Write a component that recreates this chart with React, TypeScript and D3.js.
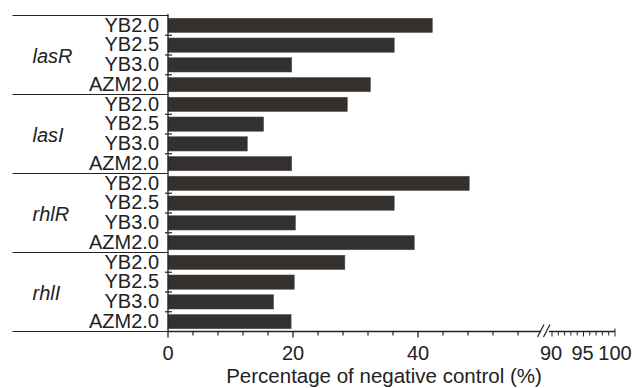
import * as d3 from 'd3';
import React from 'react';

// groups (genes) and treatments, one bar per gene x treatment
const genes = ['lasR', 'lasI', 'rhlR', 'rhlI'];
const treatments = ['YB2.0', 'YB2.5', 'YB3.0', 'AZM2.0'];

// percentage of negative control, per gene in treatment order
const lasRValues = [42.3, 36.2, 19.8, 32.4];
const lasIValues = [28.7, 15.3, 12.7, 19.8];
const rhlRValues = [48.2, 36.2, 20.4, 39.4];
const rhlIValues = [28.3, 20.2, 16.9, 19.7];

const mainTicks = [0, 20, 40];
const breakTicks = [90, 95, 100];

const W = 634;
const H = 388;
const FONT = "'Liberation Sans', Arial, sans-serif";
const BAR = '#33302e';
const INK = '#222';

export default function App() {
  const rows = [lasRValues, lasIValues, rhlRValues, rhlIValues].flatMap((vals, g) =>
    vals.map((v, t) => ({ id: `${g}-${t}`, gene: genes[g], treatment: treatments[t], value: v }))
  );

  const x = d3.scaleLinear().domain([0, 60]).range([168, 543]);
  const x2 = d3.scaleLinear().domain([90, 100]).range([552, 615]);

  const y = d3.scaleBand()
    .domain(rows.map(d => d.id))
    .range([15.5, 331.5])
    .paddingInner(0.275)
    .paddingOuter(0.1375);

  const step = y.step();
  const top = 15.5;
  const axisY = 331.5;
  const left = x(0);

  const minor = d3.range(4, 60, 4).filter(v => !mainTicks.includes(v));
  const minor2 = d3.range(90, 101, 1);
  const boundaries = d3.range(1, rows.length).filter(k => k % 4 !== 0);
  const separators = d3.range(0, rows.length + 1, 4);

  return (
    <svg width={W} height={H} style={{ position: 'absolute', left: 0, top: 0 }} fontFamily={FONT}>
      <rect width={W} height={H} fill="#fff" />

      {/* bars */}
      {rows.map(d => (
        <rect key={d.id} x={left} y={y(d.id)} width={x(d.value) - left} height={y.bandwidth()}
          fill={BAR} stroke="#555" strokeWidth={0.5} />
      ))}

      {/* group separators */}
      {separators.map(k => (
        <line key={'s' + k} x1={12.5} x2={left} y1={top + k * step} y2={top + k * step}
          stroke={INK} strokeWidth={1.2} />
      ))}

      {/* y axis */}
      <line x1={left} x2={left} y1={top - 1.5} y2={axisY + 6} stroke={INK} strokeWidth={1.3} />
      {boundaries.map(k => (
        <line key={'b' + k} x1={left - 3} x2={left + 4} y1={top + k * step} y2={top + k * step}
          stroke={INK} strokeWidth={1.2} />
      ))}

      {/* category labels */}
      {rows.map(d => (
        <text key={'l' + d.id} x={159} y={(y(d.id) ?? 0) + y.bandwidth() / 2 + 6.3}
          textAnchor="end" fontSize={20} fill={INK}>{d.treatment}</text>
      ))}
      {genes.map((g, i) => (
        <text key={g} x={32.5} y={top + (i * 4 + 2) * step + 7.5} fontSize={20}
          fontStyle="italic" fill={INK}>{g}</text>
      ))}

      {/* x axis, first segment */}
      <line x1={left} x2={541} y1={axisY} y2={axisY} stroke={INK} strokeWidth={1.3} />
      {minor.map(v => (
        <line key={'m' + v} x1={x(v)} x2={x(v)} y1={axisY} y2={axisY + 4} stroke={INK} strokeWidth={1.2} />
      ))}
      {mainTicks.filter(v => v > 0).map(v => (
        <line key={'M' + v} x1={x(v)} x2={x(v)} y1={axisY} y2={axisY + 6} stroke={INK} strokeWidth={1.3} />
      ))}

      {/* axis break */}
      <line x1={537.5} x2={544} y1={337} y2={324.5} stroke={INK} strokeWidth={1.2} />
      <line x1={543.5} x2={550} y1={337} y2={324.5} stroke={INK} strokeWidth={1.2} />

      {/* x axis, second segment */}
      <line x1={549} x2={x2(100)} y1={axisY} y2={axisY} stroke={INK} strokeWidth={1.3} />
      {minor2.map(v => (
        <line key={'n' + v} x1={x2(v)} x2={x2(v)} y1={v === 100 ? axisY - 3 : axisY}
          y2={axisY + (v % 5 === 0 ? 5 : 4)} stroke={INK} strokeWidth={1} />
      ))}

      {/* tick labels */}
      {mainTicks.map(v => (
        <text key={'t' + v} x={x(v)} y={360} textAnchor="middle" fontSize={20} fill={INK}>{v}</text>
      ))}
      {breakTicks.map(v => (
        <text key={'u' + v} x={x2(v) + (v === 100 ? 0 : -1)} y={360} textAnchor="middle" fontSize={20}
          fill={INK}>{v}</text>
      ))}

      <text x={384} y={383} textAnchor="middle" fontSize={20.5} fill={INK}>
        Percentage of negative control (%)
      </text>
    </svg>
  );
}
